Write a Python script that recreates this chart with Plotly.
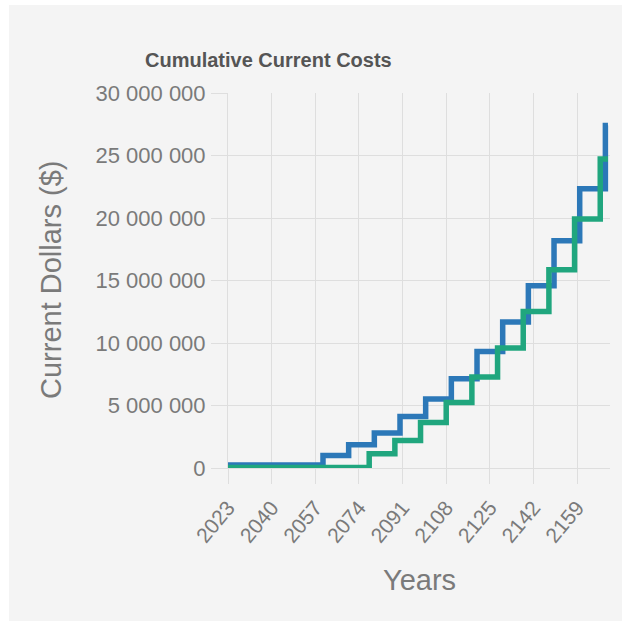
import plotly.graph_objects as go

# ---- data ----
blue_years = [2023, 2060, 2070, 2080, 2090, 2100, 2110, 2120, 2130, 2140, 2150, 2160, 2170, 2171]
blue_vals = [250000, 1000000, 1860000, 2800000, 4130000, 5520000, 7140000, 9330000,
             11680000, 14580000, 18180000, 22340000, 27400000, 27400000]

green_years = [2023, 2078, 2088, 2098, 2108, 2118, 2128, 2138, 2148, 2158, 2168, 2171]
green_vals = [50000, 1140000, 2200000, 3650000, 5250000, 7280000, 9600000,
              12530000, 15860000, 19920000, 24720000, 24720000]

x_ticks = [2023, 2040, 2057, 2074, 2091, 2108, 2125, 2142, 2159]
y_ticks = [0, 5000000, 10000000, 15000000, 20000000, 25000000, 30000000]
y_tick_text = ["0", "5 000 000", "10 000 000", "15 000 000", "20 000 000", "25 000 000", "30 000 000"]

title_text = "Cumulative Current Costs"
x_title = "Years"
y_title = "Current Dollars ($)"

# ---- layout geometry ----
W, H = 622, 621
L, R, T, B = 228, 12, 93, 153
pw, ph = W - L - R, H - T - B


def px_x(p):
    return (p - L) / pw


def px_y(p):
    return (H - B - p) / ph


BLUE = "#2c78b8"
GREEN = "#20a67e"
GRID = "#dedede"
TXT = "#7a7a7a"
FONT = "Liberation Sans, Arial, sans-serif"

fig = go.Figure()
fig.add_trace(go.Scatter(x=blue_years, y=blue_vals, mode="lines", line_shape="hv",
                         line=dict(color=BLUE, width=5.5), name="A", hoverinfo="skip"))
fig.add_trace(go.Scatter(x=green_years, y=green_vals, mode="lines", line_shape="hv",
                         line=dict(color=GREEN, width=5.5), name="B", hoverinfo="skip"))

fig.update_layout(
    width=W, height=H,
    margin=dict(l=L, r=R, t=T, b=B, pad=0),
    paper_bgcolor="#f4f4f4",
    plot_bgcolor="#f4f4f4",
    showlegend=False,
    font=dict(family=FONT, color=TXT),
    xaxis=dict(
        range=[2023, 2171.8], tickvals=x_ticks, tickangle=-50,
        showgrid=True, gridcolor=GRID, gridwidth=1,
        ticks="outside", ticklen=15, tickcolor=GRID, tickwidth=1,
        tickfont=dict(size=21, color=TXT, family=FONT),
        showline=True, linecolor=GRID, zeroline=False,
        ticklabelstandoff=3,
    ),
    yaxis=dict(
        range=[0, 30000000], tickvals=y_ticks, ticktext=y_tick_text,
        showgrid=True, gridcolor=GRID, gridwidth=1,
        ticks="outside", ticklen=16, tickcolor=GRID, tickwidth=1,
        tickfont=dict(size=22, color=TXT, family=FONT),
        showline=True, linecolor=GRID, zeroline=False,
        ticklabelstandoff=1,
    ),
    shapes=[
        dict(type="rect", xref="paper", yref="paper", layer="above",
             x0=px_x(0), x1=px_x(9), y0=px_y(H), y1=px_y(0),
             fillcolor="white", line=dict(width=0)),
        dict(type="rect", xref="paper", yref="paper", layer="above",
             x0=px_x(0), x1=px_x(W), y0=px_y(5), y1=px_y(0),
             fillcolor="white", line=dict(width=0)),
    ],
    annotations=[
        dict(text="<b>" + title_text + "</b>", xref="paper", yref="paper",
             x=px_x(268), y=px_y(60), showarrow=False, xanchor="center", yanchor="middle",
             font=dict(size=20, color="#555555", family=FONT)),
        dict(text=x_title, xref="paper", yref="paper",
             x=px_x(419), y=px_y(580), showarrow=False, xanchor="center", yanchor="middle",
             font=dict(size=29, color=TXT, family=FONT)),
        dict(text=y_title, xref="paper", yref="paper", textangle=-90,
             x=px_x(51), y=px_y(280), showarrow=False, xanchor="center", yanchor="middle",
             font=dict(size=29, color=TXT, family=FONT)),
    ],
)

fig.write_html("out.html")
